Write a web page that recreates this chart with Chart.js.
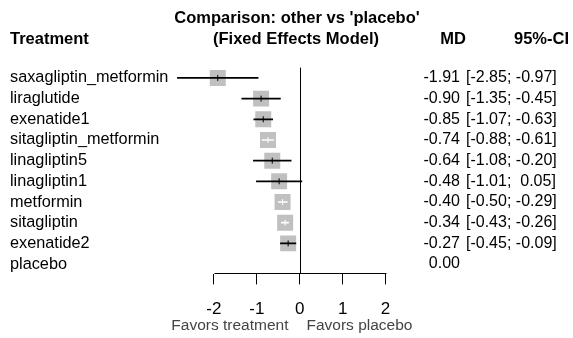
<!DOCTYPE html>
<html>
<head>
<meta charset="utf-8">
<script src="https://cdn.jsdelivr.net/npm/chart.js@4.4.1/dist/chart.umd.min.js"></script>
<style>
  html, body { margin: 0; padding: 0; background: #fff; }
  #wrap { width: 573px; height: 338px; position: relative; }
</style>
</head>
<body>
<div id="wrap"><canvas id="forest"></canvas></div>
<script>
var treatments = ["saxagliptin_metformin", "liraglutide", "exenatide1", "sitagliptin_metformin", "linagliptin5",
  "linagliptin1", "metformin", "sitagliptin", "exenatide2", "placebo"];
var md = [-1.91, -0.90, -0.85, -0.74, -0.64, -0.48, -0.40, -0.34, -0.27, 0.00];
var ciLower = [-2.85, -1.35, -1.07, -0.88, -1.08, -1.01, -0.50, -0.43, -0.45, null];
var ciUpper = [-0.97, -0.45, -0.63, -0.61, -0.20, 0.05, -0.29, -0.26, -0.09, null];
var xTicks = [-2, -1, 0, 1, 2];

var FONT = "'Liberation Sans', Arial, sans-serif";

// rows that have an interval (placebo is the reference)
var rows = [];
treatments.forEach(function(t, i) {
  if (ciLower[i] !== null) rows.push(i);
});
// short intervals sit inside the box, R draws them white
var lineColor = rows.map(function(i) {
  return (ciUpper[i] - ciLower[i]) < 0.3 ? '#ffffff' : '#000000';
});

function fmt(v) {
  var s = v.toFixed(2);
  while (s.length < 5) s = ' ' + s;
  return s;
}

var forestText = {
  id: 'forestText',
  afterDraw: function(chart) {
    var c = chart.ctx;
    var x = chart.scales.x, y = chart.scales.y;
    var area = chart.chartArea;
    var x0 = Math.round(x.getPixelForValue(0)) + 0.5;
    var axisY = Math.round(area.bottom) - 0.5;
    c.save();
    c.strokeStyle = '#000';
    c.lineWidth = 1;
    c.beginPath();
    c.moveTo(x0, area.top);
    c.lineTo(x0, axisY);
    c.moveTo(Math.round(x.getPixelForValue(xTicks[0])) + 0.5, axisY);
    c.lineTo(Math.round(x.getPixelForValue(xTicks[xTicks.length - 1])) + 0.5, axisY);
    c.stroke();

    c.fillStyle = '#000';
    c.textBaseline = 'middle';
    c.font = 'bold 16.5px ' + FONT;
    c.textAlign = 'center';
    c.fillText("Comparison: other vs 'placebo'", 297, 18);
    c.fillText("(Fixed Effects Model)", 296, 39);
    c.textAlign = 'left';
    c.fillText("Treatment", 10, 39);
    c.textAlign = 'right';
    c.fillText("MD", 466, 39);
    c.fillText("95%-CI", 569, 39);

    treatments.forEach(function(t, i) {
      var py = y.getPixelForValue(i);
      c.font = '16.3px ' + FONT;
      c.textAlign = 'left';
      c.fillText(t, 10, py);
      c.font = '16px ' + FONT;
      c.textAlign = 'right';
      c.fillText(md[i].toFixed(2), 460, py);
      if (ciLower[i] !== null) {
        c.textAlign = 'left';
        c.fillText('[' + fmt(ciLower[i]) + '; ' + fmt(ciUpper[i]) + ']', 466, py);
      }
    });

    c.fillStyle = '#444';
    c.font = '15.5px ' + FONT;
    c.textAlign = 'right';
    c.fillText("Favors treatment", x0 - 12, 326);
    c.textAlign = 'left';
    c.fillText("Favors placebo", x0 + 6, 326);
    c.restore();
  }
};

new Chart(document.getElementById('forest'), {
  type: 'bar',
  data: {
    labels: treatments,
    datasets: [
      {
        type: 'scatter',
        data: rows.map(function(i) { return {x: md[i], y: treatments[i]}; }),
        pointStyle: 'line',
        rotation: 90,
        pointRadius: 3,
        borderColor: lineColor,
        borderWidth: 1,
        order: 1
      },
      {
        type: 'bar',
        data: rows.map(function(i) { return {x: [ciLower[i], ciUpper[i]], y: treatments[i]}; }),
        backgroundColor: lineColor,
        barThickness: 1,
        borderWidth: 0,
        order: 2
      },
      {
        type: 'scatter',
        data: rows.map(function(i) { return {x: md[i], y: treatments[i]}; }),
        pointStyle: 'rect',
        pointRadius: 11.3,
        backgroundColor: '#c0c0c0',
        borderWidth: 0,
        order: 3
      }
    ]
  },
  options: {
    indexAxis: 'y',
    responsive: true,
    maintainAspectRatio: false,
    animation: false,
    events: [],
    layout: { padding: { left: 171, right: 166, top: 67.6, bottom: 3.2 } },
    plugins: { legend: { display: false }, tooltip: { enabled: false } },
    scales: {
      x: {
        type: 'linear',
        min: -3,
        max: 2.5,
        afterBuildTicks: function(scale) {
          scale.ticks = xTicks.map(function(v) { return {value: v}; });
        },
        border: { display: false },
        grid: { drawOnChartArea: false, drawTicks: true, tickLength: 10, color: '#000', lineWidth: 1 },
        ticks: { color: '#000', padding: 15, font: { family: FONT, size: 17 }, maxRotation: 0 }
      },
      y: {
        type: 'category',
        offset: true,
        display: false
      }
    }
  },
  plugins: [forestText]
});
</script>
</body>
</html>
